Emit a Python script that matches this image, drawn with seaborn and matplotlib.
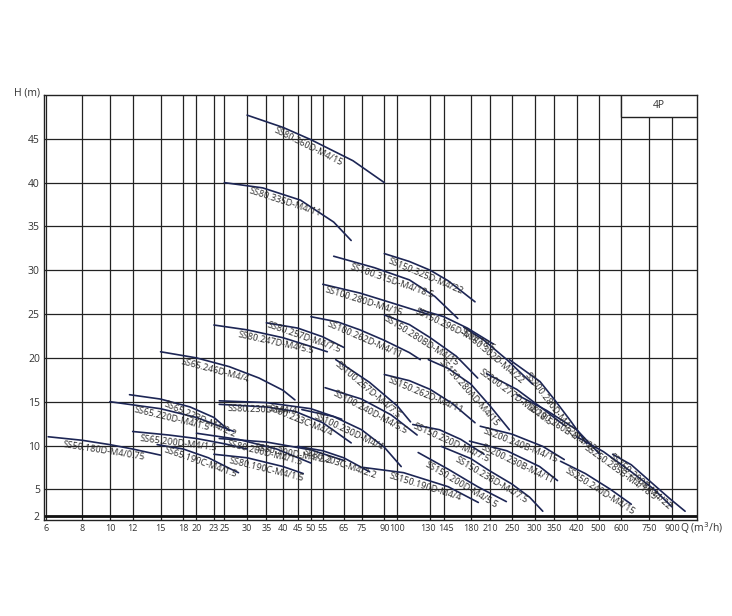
import numpy as np
import pandas as pd
import matplotlib
matplotlib.use("Agg")
import matplotlib.pyplot as plt
import matplotlib.transforms as mtransforms
import seaborn as sns
from matplotlib.patches import Rectangle

# pump curves (Q in m3/h, H in m)
pumps = [
    "SS80.360D-M4/15", "SS80.335D-M4/11", "SS150.325D-M4/22", "SS100.315D-M4/18.5",
    "SS100.280D-M4/15", "SS150.296D-M4/18.5", "SS150.302D-M4/22", "SS200.280D-M4/22",
    "SS200.277D-M4/18.5", "SS200.260B-M4/22", "SS200.240B-M4/15", "SS200.230B-M4/11",
    "SS150.238D-M4/7.5", "SS150.220D-M4/7.5", "SS150.200D-M4/5.5", "SS150.190D-M4/4",
    "SS100.262D-M4/11", "SS100.257D-M4/7.5", "SS100.240D-M4/5.5", "SS100.230D-M4/4",
    "SS80.257D-M4/7.5", "SS80.247D-M4/5.5", "SS65.246D-M4/4", "SS80.230D-M4/4",
    "SS80.223C-M4/4", "SS65.223D-M4/2.2", "SS65.220D-M4/1.5", "SS65.200D-M4/1.5",
    "SS65.190C-M4/1.5", "SS50.180D-M4/0.75", "SS80.200D-M4/2.2", "SS80.200D-M4/1.5",
    "SS80.190C-M4/1.5", "SS80.203C-M4/2.2", "SS150.280BD-M4/15", "SS150.280AD-M4/15",
    "SS150.262D-M4/11", "SS250.240D-M4/15", "SS250.285B-M4/18.5", "SS250.290B-M4/22",
]
q_pts = [
    [30, 40, 50, 70, 90], [25, 34, 46, 60, 69], [90, 110, 130, 150, 186], [60, 83, 110, 135, 162],
    [55, 74, 95, 130], [120, 145, 175, 215], [170, 200, 240, 270, 295], [245, 313, 352, 400, 455],
    [204, 260, 320, 380], [260, 330, 420, 505], [194, 250, 320, 380], [178, 240, 312, 360],
    [142, 180, 207, 250, 288, 320], [113, 140, 166, 200], [118, 150, 190, 239], [76, 105, 150, 191],
    [50, 62, 74, 90, 110, 120], [61, 80, 100, 111], [56, 75, 95, 117], [46.5, 60, 75, 90, 103],
    [35, 45, 55, 65], [23, 30, 40, 50, 57], [15, 20, 26, 33, 40, 44], [24, 35, 50, 64],
    [24, 35, 44, 55, 69], [11.7, 15, 19, 23, 26], [10, 15, 20, 27], [12, 16, 20, 25, 30],
    [14.6, 18, 22, 26, 28], [6.1, 8, 10, 12, 15], [24, 35, 50, 65], [20, 28, 38, 50],
    [23, 30, 40, 47], [45, 55, 65, 80], [90, 110, 130, 160, 190], [128, 150, 180, 210, 245],
    [90, 110, 130, 155, 186], [369, 450, 550, 650], [420, 520, 650, 780, 900], [560, 650, 750, 880, 1000],
]
h_pts = [
    [47.7, 46.3, 44.9, 42.5, 40.0], [40.0, 39.4, 38.0, 35.5, 33.4], [31.9, 31.0, 30.0, 28.8, 26.4],
    [31.6, 30.3, 28.9, 27.0, 24.5], [28.4, 27.4, 26.3, 24.9], [25.5, 24.7, 23.4, 21.6],
    [23.5, 22.0, 19.8, 18.2, 17.0], [19.8, 17.3, 15.2, 12.8, 10.2], [18.2, 16.4, 14.2, 12.3],
    [15.8, 14.0, 11.8, 9.0], [12.2, 11.3, 9.9, 8.4], [10.5, 9.4, 7.6, 6.0],
    [9.9, 8.5, 7.2, 5.6, 4.1, 2.5], [12.4, 11.8, 10.7, 9.0], [9.2, 7.3, 5.3, 3.6], [7.5, 6.9, 5.3, 3.5],
    [24.7, 24.1, 23.2, 22.0, 20.6, 19.8], [19.8, 17.2, 14.5, 12.7], [16.6, 15.3, 13.5, 11.2],
    [14.1, 13.3, 11.8, 9.8, 7.6], [24.0, 23.4, 22.4, 21.2], [23.75, 23.2, 22.3, 21.3, 20.7],
    [20.7, 20.0, 19.0, 17.7, 16.3, 15.2], [15.1, 14.9, 14.2, 13.0], [14.7, 14.4, 13.9, 12.6, 10.3],
    [15.8, 15.3, 14.4, 13.2, 11.7], [15.0, 14.2, 13.2, 11.6], [11.6, 11.2, 10.8, 10.2, 9.6],
    [10.1, 9.6, 8.6, 7.4, 6.9], [11.0, 10.6, 10.1, 9.6, 8.9], [10.8, 10.4, 9.5, 8.3],
    [11.4, 10.7, 9.6, 8.0], [9.0, 8.6, 7.6, 6.8], [9.9, 9.4, 8.6, 7.0], [24.9, 23.8, 22.3, 20.2, 17.7],
    [19.8, 18.8, 17.0, 14.5, 11.8], [18.1, 17.4, 16.4, 14.8, 12.6], [8.2, 6.8, 5.0, 3.3],
    [11.0, 9.3, 7.0, 5.0, 3.0], [9.0, 7.8, 6.0, 4.0, 2.5],
]
# where along each curve its name sits (fraction of curve length)
label_at = [
    0.45, 0.45, 0.45, 0.45, 0.4, 0.5, 0.45, 0.55, 0.4, 0.54, 0.49, 0.55,
    0.5, 0.55, 0.53, 0.54, 0.5, 0.45, 0.5, 0.45, 0.5, 0.55, 0.4, 0.35,
    0.6, 0.7, 0.5, 0.4, 0.55, 0.5, 0.6, 0.6, 0.6, 0.6, 0.4, 0.5,
    0.45, 0.6, 0.48, 0.42,
]
x_ticks = [6, 8, 10, 12, 15, 18, 20, 23, 25, 30, 35, 40, 45, 50, 55, 65, 75, 90, 100,
           130, 145, 180, 210, 250, 300, 350, 420, 500, 600, 750, 900]
y_ticks = [2, 5, 10, 15, 20, 25, 30, 35, 40, 45]

rows = []
for name, qs, hs in zip(pumps, q_pts, h_pts):
    for q, h in zip(qs, hs):
        rows.append((name, q, h))
df = pd.DataFrame(rows, columns=["pump", "Q", "H"])

sns.set_style("white")
plt.rcParams["font.family"] = ["Open Sans", "DejaVu Sans"]

W, Hpx = 732, 616
fig = plt.figure(figsize=(W / 100, Hpx / 100), dpi=100)
ax = fig.add_axes([44 / W, 1 - 520 / Hpx, (697 - 44) / W, (520 - 95) / Hpx])
ax.set_xscale("log")

sns.lineplot(data=df, x="Q", y="H", units="pump", estimator=None, sort=False,
             color="#1d2655", lw=1.2, ax=ax, legend=False, zorder=3)

ax.set_xlim(5.9, 1100)
ax.set_ylim(1.5, 50)
ax.xaxis.set_minor_locator(matplotlib.ticker.NullLocator())
ax.set_xticks(x_ticks)
ax.set_xticklabels([str(t) for t in x_ticks])
ax.set_yticks(y_ticks)
ax.set_yticklabels([str(t) for t in y_ticks])
ax.tick_params(length=0, labelsize=7.5, colors="#333333", pad=3)
ax.tick_params(axis="x", labelsize=6.5)
ax.set_xlabel("")
ax.set_ylabel("")
ax.grid(True, color="#222222", lw=0.9, zorder=1)
ax.set_axisbelow(True)
ax.axhline(2, color="#111111", lw=2.0, zorder=2)
for s in ax.spines.values():
    s.set_color("#222222")
    s.set_linewidth(1.0)

# the 130 / 145 labels sit very close, push them apart a little
for lab in ax.get_xticklabels():
    shift = {"130": -2, "145": 2}.get(lab.get_text(), 0)
    if shift:
        lab.set_transform(lab.get_transform() +
                          mtransforms.ScaledTranslation(shift / 100, 0, fig.dpi_scale_trans))

# curve names along each curve, just under it
for name, qs, hs, f in zip(pumps, q_pts, h_pts, label_at):
    pts = ax.transData.transform(np.column_stack([qs, hs]))
    seg = np.diff(pts, axis=0)
    seglen = np.hypot(seg[:, 0], seg[:, 1])
    cum = np.concatenate([[0], np.cumsum(seglen)])
    target = f * cum[-1]
    i = min(np.searchsorted(cum, target) - 1, len(seg) - 1)
    i = max(i, 0)
    t = (target - cum[i]) / seglen[i]
    p = pts[i] + t * seg[i]
    dx, dy = seg[i] / seglen[i]
    ang = np.degrees(np.arctan2(dy, dx))
    off = 7
    xy = ax.transData.inverted().transform(p)
    ax.annotate(name, xy=xy, xytext=(dy * off, -dx * off), textcoords="offset pixels",
                rotation=ang, rotation_mode="anchor", ha="center", va="center",
                fontsize=6.6, color="#2a2a2a", zorder=4)

# 4P box in the top right corner
ax.add_patch(Rectangle((600, 47.5), 500, 2.5, facecolor="white", edgecolor="#222222",
                       lw=1.0, zorder=5))
ax.text(np.sqrt(600 * 1100), 48.75, "4P", ha="center", va="center", fontsize=7.5,
        color="#333333", zorder=6)

fig.text(40 / W, 1 - 93 / Hpx, "H (m)", ha="right", va="center", fontsize=7.5, color="#333333")
fig.text(680 / W, 1 - 528 / Hpx, "Q (m$^3$/h)", ha="left", va="center", fontsize=7.5,
         color="#333333")

fig.savefig("out.png", dpi=100)
